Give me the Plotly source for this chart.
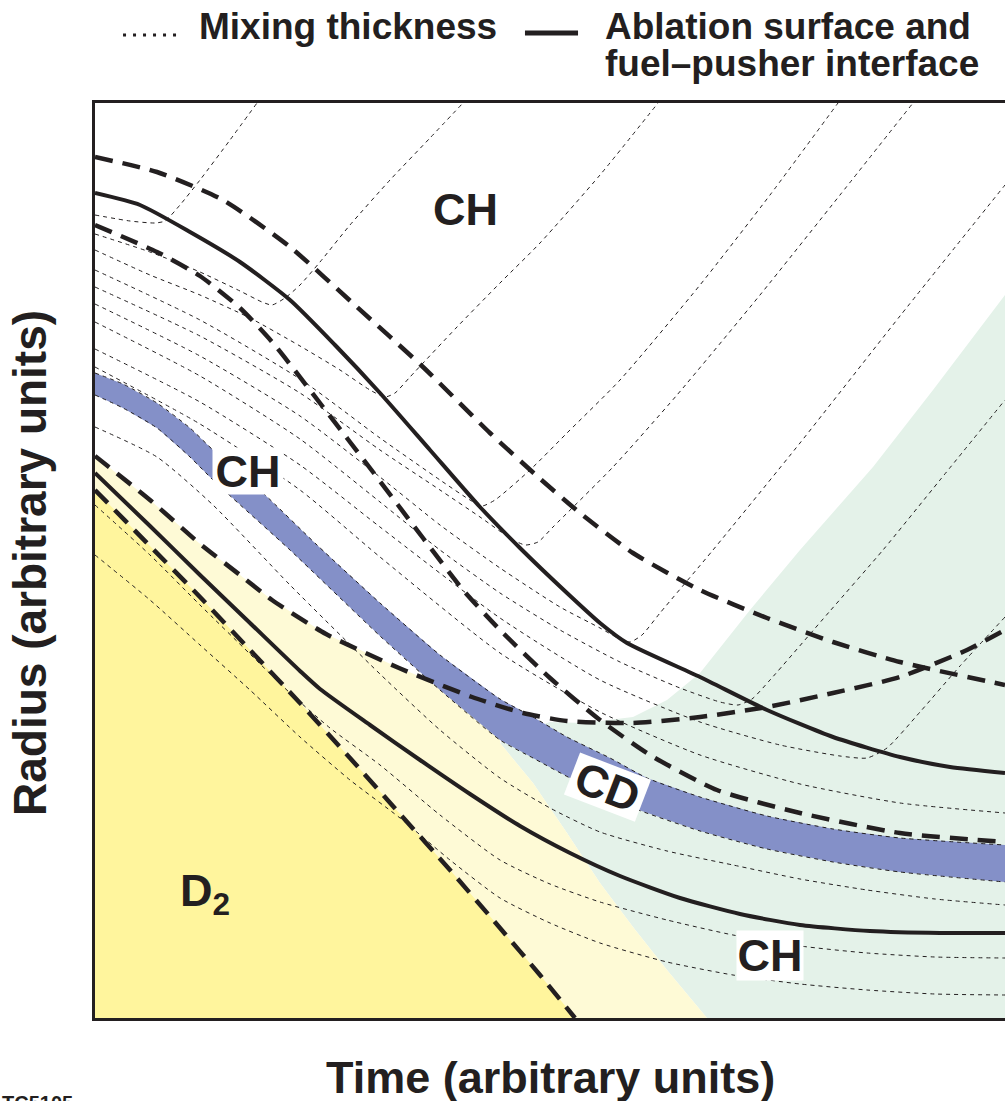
import plotly.graph_objects as go

# ---------------- data (time, radius in arbitrary units) ----------------
# Ablation surface (solid, upper)
abl_t = [0, 45, 95, 145, 195, 240, 285, 335, 385, 425, 472, 505, 532, 605, 672, 738, 805, 855, 910]
abl_r = [825, 813, 786, 756, 718, 673, 625, 568, 511, 470, 425, 395, 375, 341, 308, 281, 261, 251, 245]
# Fuel-pusher interface (solid, lower)
fp_t = [0, 55, 105, 155, 205, 225, 275, 325, 375, 425, 475, 525, 585, 645, 705, 775, 845, 910]
fp_r = [545, 492, 443, 395, 347, 329, 293, 258, 224, 192, 165, 142, 120, 104, 93, 87, 85, 85]
# Thick dashed bounds
outer_t = [0, 62, 128, 195, 262, 328, 395, 442, 485, 538, 605, 672, 738, 805, 910]
outer_r = [861, 846, 818, 771, 711, 651, 585, 542, 505, 465, 428, 400, 376, 356, 333]
inner_t = [0, 62, 105, 145, 178, 228, 278, 328, 368, 405, 455, 505, 555, 622, 705, 805, 910]
inner_r = [793, 766, 742, 710, 675, 611, 546, 480, 428, 388, 340, 298, 263, 228, 205, 185, 176]
bubble_t = [0, 55, 104, 145, 177, 231, 304, 377, 428, 472, 538, 605, 672, 738, 805, 872, 910]
bubble_r = [562, 518, 475, 443, 418, 384, 350, 321, 305, 297, 295, 301, 311, 325, 341, 368, 388]
fuel_t = [0, 55, 105, 155, 205, 255, 305, 355, 405, 445, 480]
fuel_r = [528, 472, 421, 368, 315, 260, 204, 148, 90, 43, 0]

# CD layer (blue band) edges
cd_top_t = [0, 28, 62, 95, 118, 168, 222, 285, 345, 405, 438, 472, 515, 552, 605, 672, 738, 805, 910]
cd_top_r = [645, 634, 615, 590, 568, 525, 473, 415, 363, 319, 301, 281, 260, 240, 221, 202, 189, 180, 173]
cd_bot_t = [0, 28, 62, 95, 118, 132, 195, 285, 345, 405, 438, 475, 515, 538, 605, 672, 738, 805, 910]
cd_bot_r = [623, 610, 590, 561, 538, 525, 468, 382, 328, 278, 260, 240, 221, 210, 187, 169, 156, 146, 136]

# Shaded regions
green_t = [910, 838, 778, 705, 655, 605, 572, 538, 488, 455, 425, 405, 438, 472, 505, 538, 572, 612, 910]
green_r = [723, 628, 551, 468, 408, 345, 318, 301, 295, 296, 286, 275, 235, 185, 135, 91, 48, 0, 0]
lyel_t = [0, 55, 104, 145, 177, 231, 304, 377, 405, 405, 438, 472, 505, 538, 572, 612, 0]
lyel_r = [562, 518, 475, 443, 418, 384, 350, 321, 312, 275, 235, 185, 135, 91, 48, 0, 0]
d2_t = [0, 55, 105, 155, 205, 255, 305, 355, 405, 445, 480, 0]
d2_r = [528, 472, 421, 368, 315, 260, 204, 148, 90, 43, 0, 0]

# Mixing-thickness lines (thin dashed)
m1_t = [0, 35, 60, 70, 85, 105, 135, 162]
m1_r = [803, 797, 795, 797, 813, 838, 878, 915]
m2_t = [0, 55, 105, 145, 167, 177, 190, 205, 225, 255, 295, 335, 368]
m2_r = [784, 766, 746, 727, 716, 713, 720, 733, 756, 793, 838, 880, 915]
m3_t = [0, 55, 105, 155, 205, 245, 275, 290, 300, 315, 362, 405, 445, 505, 563]
m3_r = [768, 743, 723, 700, 672, 648, 628, 621, 625, 641, 691, 735, 775, 843, 915]
m4_t = [0, 105, 205, 285, 345, 375, 387, 400, 435, 472, 525, 605, 675, 743]
m4_r = [748, 698, 639, 580, 538, 518, 512, 518, 548, 585, 638, 733, 823, 915]
m5_t = [0, 105, 205, 285, 345, 385, 415, 430, 443, 458, 518, 582, 665, 745, 818]
m5_r = [731, 682, 625, 568, 528, 501, 480, 473, 476, 491, 551, 623, 723, 823, 915]
m6_t = [0, 105, 205, 285, 345, 405, 465, 505, 523, 535, 547, 565, 618, 705, 805, 910]
m6_r = [714, 662, 602, 541, 493, 450, 411, 390, 380, 376, 383, 405, 468, 575, 702, 833]
m7_t = [0, 105, 205, 285, 345, 405, 465, 525, 585, 625, 643, 657, 675, 735, 788, 845, 910]
m7_r = [696, 642, 579, 516, 468, 425, 388, 356, 330, 316, 313, 319, 338, 407, 468, 538, 618]
m8_t = [0, 105, 205, 285, 405, 505, 605, 685, 745, 772, 792, 825, 865, 910]
m8_r = [669, 616, 553, 491, 400, 338, 296, 273, 262, 260, 270, 306, 352, 401]
m9_t = [0, 105, 205, 285, 405, 505, 605, 705, 805, 910]
m9_r = [651, 594, 528, 461, 365, 306, 263, 234, 215, 205]
m10_t = [0, 62, 118, 195, 285, 345, 405, 455, 505, 572, 638, 705, 772, 840, 910]
m10_r = [591, 561, 513, 433, 344, 288, 240, 210, 186, 167, 153, 139, 128, 119, 113]
m11_t = [0, 55, 105, 155, 195, 235, 285, 345, 405, 455, 505, 572, 638, 705, 772, 840, 910]
m11_r = [513, 463, 413, 364, 325, 290, 253, 203, 158, 134, 116, 98, 83, 72, 65, 61, 60]
m12_t = [0, 55, 105, 155, 205, 255, 305, 355, 405, 455, 505, 572, 638, 705, 772, 840, 910]
m12_r = [463, 418, 373, 328, 281, 238, 200, 158, 120, 95, 75, 56, 43, 34, 28, 24, 23]

mixing = [(m1_t, m1_r), (m2_t, m2_r), (m3_t, m3_r), (m4_t, m4_r), (m5_t, m5_r),
          (m6_t, m6_r), (m7_t, m7_r), (m8_t, m8_r), (m9_t, m9_r), (m10_t, m10_r),
          (m11_t, m11_r), (m12_t, m12_r), (cd_top_t, cd_top_r), (cd_bot_t, cd_bot_r)]

legend_labels = ["Mixing thickness", "Ablation surface and", "fuel\u2013pusher interface"]
x_title = "Time (arbitrary units)"
y_title = "Radius (arbitrary units)"

INK = "#231f20"
FONT = "Liberation Sans, Arial, Helvetica, sans-serif"

fig = go.Figure()

def fill(t, r, color):
    fig.add_trace(go.Scatter(x=t, y=r, mode="lines", fill="toself", fillcolor=color,
                             line=dict(width=0), hoverinfo="skip", showlegend=False))

fill(green_t, green_r, "#e4f2e9")
fill(lyel_t, lyel_r, "#fefad6")
fill(d2_t, d2_r, "#fff59d")
fill(cd_top_t + cd_bot_t[::-1], cd_top_r + cd_bot_r[::-1], "#8490c8")

def line(t, r, width, dash, color=INK):
    fig.add_trace(go.Scatter(x=t, y=r, mode="lines",
                             line=dict(width=width, dash=dash, color=color, shape="spline", smoothing=0.6),
                             hoverinfo="skip", showlegend=False))

for t, r in mixing:
    line(t, r, 1.0, "4px,4px", "#231f20")

for t, r in [(outer_t, outer_r), (inner_t, inner_r), (bubble_t, bubble_r), (fuel_t, fuel_r)]:
    line(t, r, 4.5, "18px,10px")

line(abl_t, abl_r, 4, "solid")
line(fp_t, fp_r, 4, "solid")

lab_font = dict(family=FONT, size=45, color=INK, weight="bold")
ann = [
    dict(x=370, y=809, text="CH", showarrow=False, font=lab_font),
    dict(x=153, y=547, text="CH", showarrow=False, font=lab_font, bgcolor="white",
         width=70, height=46, borderpad=0),
    dict(x=512, y=231, text="CD", showarrow=False, font=lab_font, bgcolor="white",
         width=75, height=44, borderpad=0, textangle=21),
    dict(x=675, y=63, text="CH", showarrow=False, font=lab_font, bgcolor="white",
         width=66, height=49, borderpad=0),
    dict(x=110, y=125, text="D<sub>2</sub>", showarrow=False, font=lab_font),
]
leg_font = dict(family=FONT, size=37, color=INK, weight="bold")
ann += [
    dict(xref="paper", yref="paper", x=0.1121, y=1.0836, xanchor="left", yanchor="middle",
         text=legend_labels[0], showarrow=False, font=leg_font),
    dict(xref="paper", yref="paper", x=0.5582, y=1.0836, xanchor="left", yanchor="middle",
         text=legend_labels[1], showarrow=False, font=leg_font),
    dict(xref="paper", yref="paper", x=0.5582, y=1.0432, xanchor="left", yanchor="middle",
         text=legend_labels[2], showarrow=False, font=leg_font),
    dict(xref="paper", yref="paper", x=0.501, y=-0.0645, xanchor="center", yanchor="middle",
         text=x_title, showarrow=False, font=dict(family=FONT, size=45, color=INK, weight="bold")),
    dict(xref="paper", yref="paper", x=-0.0714, y=0.4973, xanchor="center", yanchor="middle",
         text=y_title, textangle=-90, showarrow=False,
         font=dict(family=FONT, size=46, color=INK, weight="bold")),
    dict(xref="paper", yref="paper", x=-0.1044, y=-0.0787, xanchor="left", yanchor="top",
         text="TC5105", showarrow=False, font=dict(family=FONT, size=20, color=INK, weight="bold")),
]

shapes = [
    dict(type="line", xref="paper", yref="paper", x0=0.0308, x1=0.0934, y0=1.0743, y1=1.0743,
         line=dict(color=INK, width=3, dash="3px,7px")),
    dict(type="line", xref="paper", yref="paper", x0=0.4725, x1=0.5308, y0=1.0765, y1=1.0765,
         line=dict(color=INK, width=5)),
]

fig.update_layout(
    width=1005, height=1101,
    margin=dict(l=95, r=0, t=103, b=83),
    paper_bgcolor="white", plot_bgcolor="white",
    showlegend=False,
    annotations=ann, shapes=shapes,
    xaxis=dict(range=[0, 910], showgrid=False, zeroline=False, showticklabels=False, ticks="",
               showline=True, linewidth=3, linecolor=INK, mirror=True),
    yaxis=dict(range=[0, 915], showgrid=False, zeroline=False, showticklabels=False, ticks="",
               showline=True, linewidth=3, linecolor=INK, mirror=False),
)

fig.write_html("out.html")
